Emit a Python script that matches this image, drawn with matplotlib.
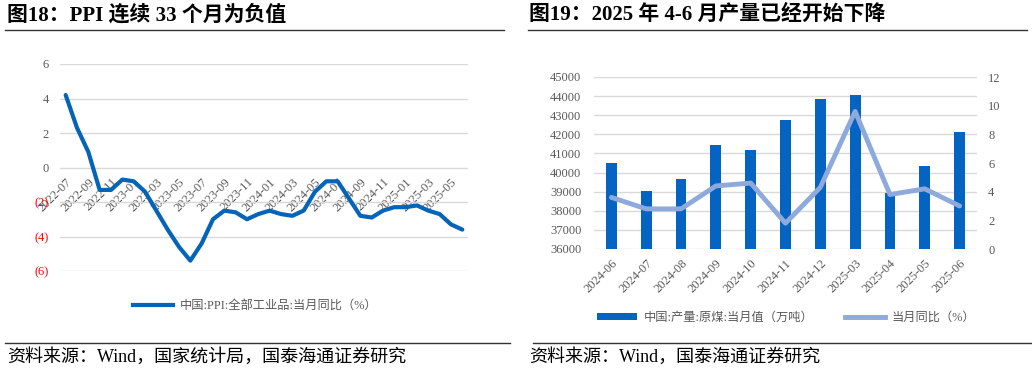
import matplotlib
matplotlib.use('Agg')
import matplotlib.pyplot as plt
from matplotlib.lines import Line2D
from matplotlib.patches import Patch

plt.rcParams['font.family'] = ['Liberation Serif', 'Noto Sans CJK SC', 'DejaVu Sans']

# ── 图18 数据：PPI 当月同比 ─────────────────────────────────────
ppi_months = [
    "2022-07", "2022-08", "2022-09", "2022-10", "2022-11", "2022-12",
    "2023-01", "2023-02", "2023-03", "2023-04", "2023-05", "2023-06",
    "2023-07", "2023-08", "2023-09", "2023-10", "2023-11", "2023-12",
    "2024-01", "2024-02", "2024-03", "2024-04", "2024-05", "2024-06",
    "2024-07", "2024-08", "2024-09", "2024-10", "2024-11", "2024-12",
    "2025-01", "2025-02", "2025-03", "2025-04", "2025-05", "2025-06",
]
ppi_yoy = [
    4.2, 2.3, 0.9, -1.3, -1.3, -0.7,
    -0.8, -1.4, -2.5, -3.6, -4.6, -5.4,
    -4.4, -3.0, -2.5, -2.6, -3.0, -2.7,
    -2.5, -2.7, -2.8, -2.5, -1.4, -0.8,
    -0.8, -1.8, -2.8, -2.9, -2.5, -2.3,
    -2.3, -2.2, -2.5, -2.7, -3.3, -3.6,
]
ppi_yticks = [-6, -4, -2, 0, 2, 4, 6]

# ── 图19 数据：原煤产量 ──────────────────────────────────────────
coal_months = ["2024-06", "2024-07", "2024-08", "2024-09", "2024-10", "2024-11",
               "2024-12", "2025-03", "2025-04", "2025-05", "2025-06"]
coal_output = [40520, 39030, 39660, 41430, 41170, 42770,
               43860, 44060, 38930, 40320, 42110]
coal_yoy = [3.6, 2.8, 2.8, 4.4, 4.6, 1.8, 4.3, 9.6, 3.8, 4.2, 3.0]

TICK_GRAY = '#595959'
GRID = '#D9D9D9'
W, H = 1032, 371

fig = plt.figure(figsize=(W / 100, H / 100), dpi=100)


def fx(px):
    return px / W


def fy(py):
    return 1 - py / H


# ── 标题与分隔线 ────────────────────────────────────────────────
fig.text(fx(7), fy(15), "图18：PPI 连续 33 个月为负值", fontsize=15, fontweight='bold',
         ha='left', va='center', color='black')
fig.text(fx(529), fy(15), "图19：2025 年 4-6 月产量已经开始下降", fontsize=15,
         fontweight='bold', ha='left', va='center', color='black')
for x0, x1 in [(5, 504), (528, 1027)]:
    fig.add_artist(Line2D([fx(x0), fx(x1)], [fy(30), fy(30)], color='#333333', lw=1.0))
for x0, x1 in [(5, 510), (533, 1032)]:
    fig.add_artist(Line2D([fx(x0), fx(x1)], [fy(343), fy(343)], color='#333333', lw=1.0))
fig.text(fx(7), fy(357), "资料来源：Wind，国家统计局，国泰海通证券研究", fontsize=13,
         ha='left', va='center', color='black')
fig.text(fx(529), fy(357), "资料来源：Wind，国泰海通证券研究", fontsize=13,
         ha='left', va='center', color='black')

# ── 图18 ───────────────────────────────────────────────────────
ax1 = fig.add_axes([fx(60), fy(271), fx(468 - 60), fy(64) - fy(271)])
x = list(range(len(ppi_months)))
ax1.plot(x, ppi_yoy, color='#0563B8', lw=3.0, solid_capstyle='round', zorder=3)
ax1.set_xlim(-0.5, len(ppi_months) - 0.5)
ax1.set_ylim(-6, 6)
ax1.set_yticks(ppi_yticks)
ax1.set_yticklabels([f"({-v})" if v < 0 else f"{v}" for v in ppi_yticks])
for lab, v in zip(ax1.get_yticklabels(), ppi_yticks):
    lab.set_color('#FF0000' if v < 0 else TICK_GRAY)
ax1.grid(axis='y', color=GRID, lw=1.0)
ax1.set_axisbelow(True)
for s in ax1.spines.values():
    s.set_visible(False)
ax1.spines['bottom'].set_position(('data', 0))
ax1.set_xticks(x[::2])
ax1.set_xticklabels(ppi_months[::2], rotation=45, ha='right', rotation_mode='anchor',
                    color=TICK_GRAY, fontsize=9)
ax1.tick_params(axis='x', length=0, pad=6)
ax1.tick_params(axis='y', length=0, pad=8, labelsize=9)

ax1.legend(handles=[Line2D([0], [0], color='#0563B8', lw=3.0)],
           labels=["中国:PPI:全部工业品:当月同比（%）"],
           loc='center', bbox_to_anchor=(fx(255), fy(306)), bbox_transform=fig.transFigure,
           frameon=False, fontsize=8.8, handlelength=3.3, handletextpad=0.5,
           labelcolor=TICK_GRAY)

# ── 图19 ───────────────────────────────────────────────────────
ax2 = fig.add_axes([fx(594), fy(249), fx(977 - 594), fy(77) - fy(249)])
xc = list(range(len(coal_months)))
ax2.bar(xc, coal_output, width=0.31, color='#0563C1', zorder=2)
ax2.set_xlim(-0.5, len(coal_months) - 0.5)
ax2.set_ylim(36000, 45000)
ax2.set_yticks(range(36000, 45001, 1000))
ax2.grid(axis='y', color=GRID, lw=1.0)
ax2.set_axisbelow(True)
for s in ax2.spines.values():
    s.set_visible(False)
ax2.set_xticks(xc)
ax2.set_xticklabels(coal_months, rotation=45, ha='right', rotation_mode='anchor',
                    color=TICK_GRAY, fontsize=9)
ax2.tick_params(axis='x', length=0, pad=6)
ax2.tick_params(axis='y', length=0, pad=9, labelsize=9, labelcolor=TICK_GRAY)

ax3 = ax2.twinx()
ax3.plot(xc, coal_yoy, color='#8EA9DB', lw=3.5, solid_capstyle='round', zorder=3)
ax3.set_ylim(0, 12)
ax3.set_yticks(range(0, 13, 2))
for s in ax3.spines.values():
    s.set_visible(False)
ax3.tick_params(axis='y', length=0, pad=8, labelsize=9, labelcolor=TICK_GRAY)

ax2.legend(handles=[Patch(facecolor='#0563C1'), Line2D([0], [0], color='#8EA9DB', lw=3.5)],
           labels=["中国:产量:原煤:当月值（万吨）", "当月同比（%）"],
           loc='center', bbox_to_anchor=(fx(786), fy(318)), bbox_transform=fig.transFigure,
           frameon=False, fontsize=8.8, ncol=2, handlelength=3.3, handleheight=0.5,
           handletextpad=0.5, columnspacing=2.6, labelcolor=TICK_GRAY)

fig.savefig('out.png', dpi=100)
